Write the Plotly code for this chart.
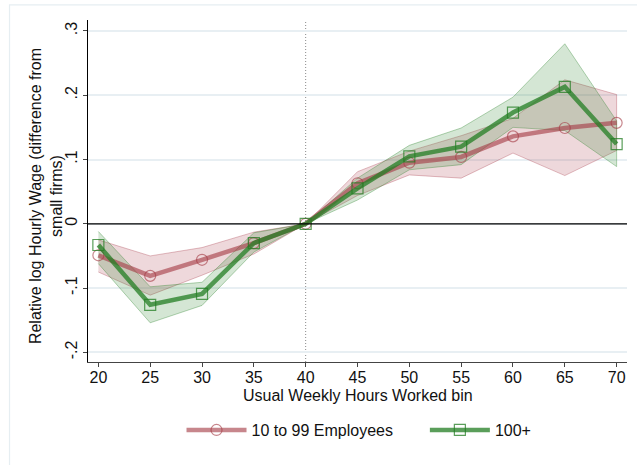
import plotly.graph_objects as go

hours = [20, 25, 30, 35, 40, 45, 50, 55, 60, 65, 70]

small_est = [-0.049, -0.081, -0.056, -0.030, 0.0, 0.063, 0.095, 0.104, 0.136, 0.149, 0.157]
small_lo = [-0.075, -0.111, -0.080, -0.047, 0.0, 0.044, 0.076, 0.071, 0.110, 0.075, 0.114]
small_hi = [-0.025, -0.050, -0.037, -0.013, 0.0, 0.081, 0.113, 0.137, 0.164, 0.224, 0.201]

large_est = [-0.033, -0.126, -0.109, -0.030, 0.0, 0.055, 0.105, 0.120, 0.173, 0.213, 0.124]
large_lo = [-0.062, -0.154, -0.127, -0.044, 0.0, 0.037, 0.084, 0.092, 0.150, 0.145, 0.089]
large_hi = [-0.012, -0.098, -0.091, -0.014, 0.0, 0.071, 0.122, 0.149, 0.197, 0.280, 0.160]

y_ticks = [-0.2, -0.1, 0.0, 0.1, 0.2, 0.3]
y_ticktext = ["-.2", "-.1", "0", ".1", ".2", ".3"]
x_ticks = [20, 25, 30, 35, 40, 45, 50, 55, 60, 65, 70]

series_names = ["10 to 99 Employees", "100+"]

RED_FILL = "rgba(160,40,55,0.18)"
RED_EDGE = "rgba(160,40,55,0.30)"
RED_LINE = "rgba(165,60,70,0.62)"
GRN_FILL = "rgba(40,130,40,0.20)"
GRN_EDGE = "rgba(40,130,40,0.35)"
GRN_LINE = "rgba(35,125,35,0.75)"

FONT = "Arial, Liberation Sans, Helvetica, sans-serif"
FS = 16

fig = go.Figure()

# confidence bands
fig.add_trace(go.Scatter(
    x=hours + hours[::-1], y=small_hi + small_lo[::-1],
    fill="toself", fillcolor=RED_FILL, mode="lines",
    line=dict(color=RED_EDGE, width=1), showlegend=False, hoverinfo="skip"))
fig.add_trace(go.Scatter(
    x=hours + hours[::-1], y=large_hi + large_lo[::-1],
    fill="toself", fillcolor=GRN_FILL, mode="lines",
    line=dict(color=GRN_EDGE, width=1), showlegend=False, hoverinfo="skip"))

# point estimates
fig.add_trace(go.Scatter(
    x=hours, y=small_est, mode="lines+markers", name=series_names[0], legend="legend",
    line=dict(color=RED_LINE, width=4.5),
    marker=dict(symbol="circle-open", size=11, color=RED_LINE, line=dict(width=1.2, color=RED_LINE))))
fig.add_trace(go.Scatter(
    x=hours, y=large_est, mode="lines+markers", name=series_names[1], legend="legend2",
    line=dict(color=GRN_LINE, width=4.5),
    marker=dict(symbol="square-open", size=11, color=GRN_LINE, line=dict(width=1.2, color=GRN_LINE))))

# reference lines
fig.add_shape(type="line", xref="x", yref="paper", x0=40, x1=40, y0=0, y1=1,
              line=dict(color="#8a8a8a", width=1, dash="1px,2px"), layer="below")
fig.add_shape(type="line", xref="paper", yref="y", x0=0, x1=1, y0=0, y1=0,
              line=dict(color="black", width=1.2), layer="above")

# outer graph frame
fig.add_shape(type="rect", xref="paper", yref="paper", x0=-0.1456, x1=1.06, y0=-0.45, y1=1.044,
              line=dict(color="#e6eef2", width=1.2), fillcolor="rgba(0,0,0,0)", layer="below")

legend_common = dict(orientation="h", xanchor="left", y=-0.199, yanchor="middle",
                     font=dict(size=FS), itemwidth=60, bgcolor="rgba(0,0,0,0)")

fig.update_layout(
    width=637, height=465,
    margin=dict(l=88, r=10, t=20, b=103),
    paper_bgcolor="white", plot_bgcolor="white",
    font=dict(family=FONT, size=FS, color="#111111"),
    showlegend=True,
    legend=dict(x=0.1735, **legend_common),
    legend2=dict(x=0.625, **legend_common),
    xaxis=dict(range=[19, 71], tickvals=x_ticks, ticks="outside", ticklen=4, tickcolor="#444",
               showline=True, linecolor="#444", linewidth=1.2, showgrid=False, zeroline=False,
               tickfont=dict(size=FS), ticklabelstandoff=-3),
    yaxis=dict(range=[-0.215, 0.317], tickvals=y_ticks, ticktext=y_ticktext, tickangle=-90,
               ticks="outside", ticklen=4, tickcolor="#444", showline=True, linecolor="black",
               linewidth=1.2, showgrid=True, gridcolor="#e8eff3", gridwidth=1.5, zeroline=False,
               tickfont=dict(size=FS)),
    annotations=[
        dict(text="Relative log Hourly Wage (difference from<br>small firms)", xref="paper", yref="paper",
             x=-0.078, y=0.485, xanchor="center", yanchor="middle", textangle=-90, showarrow=False,
             font=dict(size=FS)),
        dict(text="Usual Weekly Hours Worked bin", xref="paper", yref="paper",
             x=0.5, y=-0.0985, xanchor="center", yanchor="middle", showarrow=False,
             font=dict(size=FS)),
    ],
)

fig.write_html("out.html", config={"displayModeBar": False},
               post_script="document.body.style.margin='0';")
